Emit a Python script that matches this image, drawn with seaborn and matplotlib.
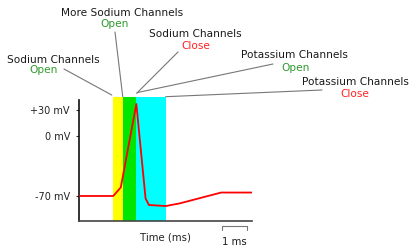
import matplotlib
matplotlib.use("Agg")
import matplotlib.pyplot as plt
import seaborn as sns
import pandas as pd

# membrane potential trace (time in ms, voltage in mV)
time_ms = [0.04, 1.41, 1.72, 2.36, 2.74, 2.88, 3.57, 4.16, 5.85, 7.13]
volt_mv = [-70, -70, -60, 37, -73, -80.5, -81.7, -78.5, -66, -66]

# channel phases (start, end in ms) and colours
phase_start = [1.41, 1.80, 2.36]
phase_end = [1.80, 2.36, 3.57]
phase_color = ["#ffff00", "#00e600", "#00ffff"]

ytick_vals = [30, 0, -70]
ytick_labels = ["+30 mV", "0 mV", "-70 mV"]

# labels: (title, state, state colour, centre x px, title y px, state x px, state y px)
labels = [
    ("Sodium Channels", "Open", "#2e9a2e", 53, 60, 44, 70),
    ("More Sodium Channels", "Open", "#2e9a2e", 122, 13, 115, 24),
    ("Sodium Channels", "Close", "#ff2020", 195, 34, 196, 46),
    ("Potassium Channels", "Open", "#2e9a2e", 294, 55, 296, 68),
    ("Potassium Channels", "Close", "#ff2020", 355, 82, 355, 94),
]
# leader lines: start in image px, end in data coords
leaders = [
    ((64, 69), (1.35, 47.4)),
    ((115, 32), (1.80, 45.5)),
    ((178, 52), (2.37, 49.4)),
    ((273, 64), (2.40, 50.3)),
    ((322, 90), (3.57, 45.5)),
]

df = pd.DataFrame({"t": time_ms, "v": volt_mv})

sns.set_style("white")
plt.rcParams["font.family"] = ["DejaVu Sans"]

W, H = 410, 247
fig = plt.figure(figsize=(W / 100, H / 100), dpi=100)
ax = fig.add_axes([79 / W, (H - 221) / H, (252 - 79) / W, (221 - 96.7) / H])

for s, e, c in zip(phase_start, phase_end, phase_color):
    ax.axvspan(s, e, color=c, lw=0, zorder=0)

sns.lineplot(data=df, x="t", y="v", color="red", lw=1.3, ax=ax, zorder=3)

ax.set_xlim(0, 7.12)
ax.set_ylim(-99.1, 45.5)
ax.set_yticks(ytick_vals)
ax.set_yticklabels(ytick_labels, fontsize=7, color="#222222")
ax.set_xticks([])
ax.tick_params(axis="y", left=True, direction="out", length=2.5, width=0.8,
               color="#333333", pad=4)
ax.set_xlabel("Time (ms)", fontsize=7.3, color="#222222", labelpad=8)
ax.set_ylabel("")
for side in ["top", "right"]:
    ax.spines[side].set_visible(False)
ax.spines["left"].set_color("#111111")
ax.spines["left"].set_linewidth(1.2)
ax.spines["left"].set_bounds(-99.1, 41.6)
ax.spines["bottom"].set_color("#444444")
ax.spines["bottom"].set_linewidth(1.2)

for title, state, col, tx, ty, sx, sy in labels:
    fig.text(tx / W, 1 - ty / H, title, fontsize=7.6, color="#1a1a1a", ha="center", va="center")
    fig.text(sx / W, 1 - sy / H, state, fontsize=7.6, color=col, ha="center", va="center")

for (px, py), (dx, dy) in leaders:
    ax.annotate("", xy=(dx, dy), xycoords="data", xytext=(px, H - py),
                textcoords="figure pixels", annotation_clip=False,
                arrowprops=dict(arrowstyle="-", color="#777777", lw=0.8,
                                shrinkA=0, shrinkB=0))

# 1 ms scale bar
bar = dict(color="#777777", lw=0.8, clip_on=False)
ax.plot([5.90, 6.90], [-104.7, -104.7], **bar)
ax.plot([5.90, 5.90], [-104.7, -110], **bar)
ax.plot([6.90, 6.90], [-104.7, -110], **bar)
ax.text(6.40, -118, "1 ms", fontsize=7.3, color="#1a1a1a", ha="center", va="top")

fig.savefig("out.png", dpi=100)
